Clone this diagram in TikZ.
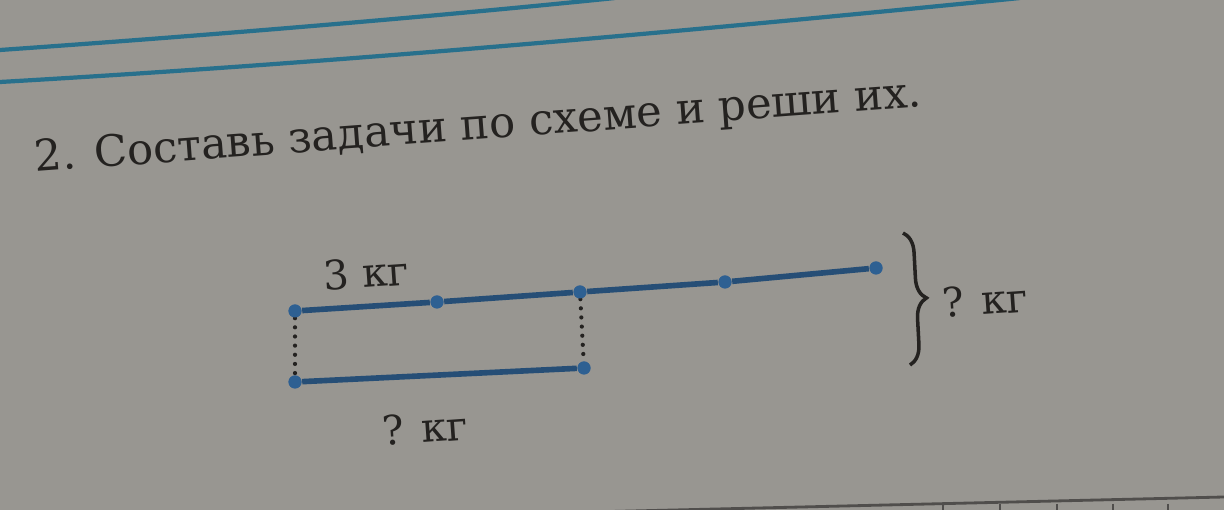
\documentclass[tikz,border=0pt]{standalone}
\usepackage{fontspec}
\setmainfont{DejaVu Serif}
\usetikzlibrary{decorations.pathreplacing}
\definecolor{paper}{RGB}{152,150,145}
\definecolor{ink}{RGB}{36,34,32}
\definecolor{segblue}{RGB}{38,78,118}
\definecolor{dotblue}{RGB}{46,96,146}
\definecolor{ruleblue}{RGB}{40,112,140}

\begin{document}
\begin{tikzpicture}[x=0.01cm, y=-0.01cm,
    dot/.style = {circle, fill=dotblue, inner sep=0pt, minimum size=0.13cm},
    seg/.style = {segblue, line width=1.6pt},
    link/.style = {ink, line width=1.2pt, dash pattern=on 0pt off 2.6pt, line cap=round},
    lbl/.style = {ink, font=\fontsize{11.5}{13}\selectfont, rotate=4}]
    \fill[paper] (0,0) rectangle (1224,510);
    \useasboundingbox (0,0) rectangle (1224,510);

    % ruled lines of the page
    \draw[ruleblue, line width=1.2pt] (0,50) .. controls (200,36) and (420,18) .. (615,-2);
    \draw[ruleblue, line width=1.2pt] (0,82) .. controls (350,62) and (700,30) .. (1020,-2);
    \draw[ink!80, line width=0.8pt] (590,512) -- (1224,497);
    \foreach \gx in {943,1000,1057,1113,1168}
        \draw[ink!80, line width=0.8pt] (\gx,504) -- (\gx,512);

    \node[ink, anchor=base west, rotate=4.2, inner sep=0pt, font=\fontsize{12.3}{15}\selectfont]
        (title) at (35,172) {2. Составь задачи по схеме и реши их.};

    % first line
    \node[dot] (a1) at (295,311) {};
    \node[dot] (a2) at (437,302) {};
    \node[dot] (a3) at (580,292) {};
    \node[dot] (a4) at (725,282) {};
    \node[dot] (a5) at (876,268) {};
    % second line
    \node[dot] (b1) at (295,382) {};
    \node[dot] (b2) at (584,368) {};

    \draw[link] (a1) -- (b1);
    \draw[link] (a3) -- (b2);
    \draw[seg] (a1) -- (a2) -- (a3) -- (a4) -- (a5);
    \draw[seg] (b1) -- (b2);
    \node[dot] at (a1) {};
    \node[dot] at (a2) {};
    \node[dot] at (a3) {};
    \node[dot] at (a4) {};
    \node[dot] at (a5) {};
    \node[dot] at (b1) {};
    \node[dot] at (b2) {};

    \node[lbl] (part) at (366,273) {3 кг};
    \node[lbl] (lower) at (425,428) {? кг};

    \coordinate (btop) at (903,233);
    \coordinate (bbot) at (910,365);
    \draw[ink, line width=1pt, decorate, decoration={brace, amplitude=0.2cm}] (btop) -- (bbot);
    \node[lbl] (total) at (985,300) {? кг};
\end{tikzpicture}
\end{document}
